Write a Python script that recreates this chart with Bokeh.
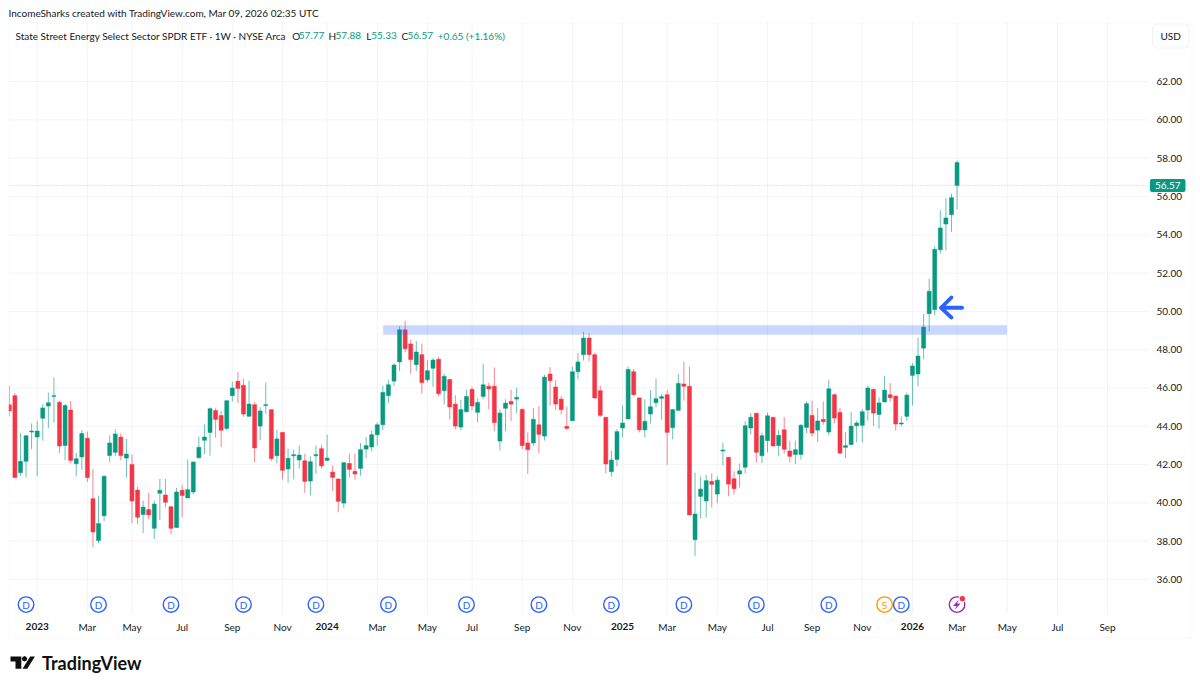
from bokeh.plotting import figure
from bokeh.core.properties import value
from bokeh.models import (ColumnDataSource, FixedTicker, Label, LinearAxis, PolyAnnotation, BoxAnnotation,
                          NumeralTickFormatter)
from bokeh.embed import file_html
from bokeh.resources import INLINE

UI_FONT = "Lato"
GREEN = "#089981"
RED = "#f23645"
BLUE = "#2962ff"
INK = "#131722"
GRID = "#f3f4f7"

first_week = -5
opens = [45.13,45.60,41.58,42.17,43.70,43.44,44.42,45.06,45.56,45.25,
         43.00,44.85,42.05,42.40,43.37,40.22,38.03,39.33,42.48,42.64,
         43.44,42.34,42.01,40.67,39.39,39.65,38.67,40.50,40.41,39.80,
         38.72,40.66,40.26,40.57,42.36,43.27,43.68,44.82,44.56,43.89,
         45.60,46.35,46.14,44.52,45.13,44.01,45.08,44.87,42.46,43.68,
         41.77,42.46,42.24,42.20,41.14,42.46,42.83,42.22,41.61,41.25,
         39.99,42.06,41.65,41.80,42.81,42.92,43.56,44.08,45.60,46.36,
         47.36,49.04,48.30,47.22,47.74,46.43,47.03,47.50,45.86,46.45,
         45.16,43.96,44.76,45.93,44.73,45.56,46.09,46.09,43.23,44.94,
         45.30,45.42,44.88,43.13,43.13,44.08,43.49,46.73,46.05,45.42,
         44.00,44.29,46.85,47.74,48.61,47.74,45.86,44.47,41.63,42.27,
         43.91,44.38,46.85,45.48,43.81,44.64,45.23,45.46,45.65,43.93,
         44.83,46.21,46.09,38.08,40.34,40.10,41.12,40.46,42.71,42.38,
         41.26,41.51,41.86,43.91,44.68,42.46,43.25,44.47,42.99,43.82,
         42.71,42.53,42.53,43.94,44.57,43.80,44.36,43.70,45.65,44.73,
         42.90,43.04,44.03,44.05,44.85,45.93,44.62,45.27,45.65,45.58,
         44.12,44.52,46.66,46.73,48.08,49.88,50.09,53.22,54.56,55.05,
         56.57]
closes = [44.80,41.32,42.17,43.51,43.75,43.75,44.96,45.23,45.60,42.97,
          45.08,42.22,42.31,43.62,41.32,38.48,38.92,41.39,43.13,43.60,
          42.47,42.55,40.10,39.25,39.78,39.37,39.94,40.66,40.03,38.67,
          40.57,40.38,40.69,42.14,42.90,43.44,44.92,44.36,43.79,45.34,
          46.00,45.98,44.64,45.16,42.87,44.80,45.13,42.31,43.34,41.70,
          42.33,42.52,42.50,41.12,42.15,42.52,41.93,42.34,41.33,40.08,
          42.10,41.75,41.51,42.78,42.99,43.56,44.08,45.77,46.17,47.20,
          49.04,48.05,47.48,47.88,46.28,46.90,47.46,45.70,46.61,45.01,
          44.01,44.87,45.56,45.06,45.25,46.17,45.95,44.19,44.69,45.21,
          45.16,45.51,42.99,42.78,44.36,43.58,46.57,46.38,45.16,44.87,
          43.89,46.85,47.36,48.61,47.74,45.48,44.57,42.03,42.24,43.72,
          44.17,46.97,45.65,43.81,44.26,45.02,45.44,45.55,43.68,44.87,
          46.24,46.09,39.37,39.42,40.72,41.16,40.97,41.19,42.76,40.98,
          40.74,41.68,44.03,44.47,42.64,43.51,44.55,42.97,43.53,42.80,
          42.43,42.78,44.05,45.18,43.65,44.28,44.24,45.96,44.43,42.60,
          42.99,44.01,44.17,44.76,46.00,44.69,45.22,45.89,45.49,44.12,
          44.17,45.63,47.15,47.67,49.18,51.05,53.24,54.36,54.88,55.94,
          57.77]
highs = [46.12,45.74,43.65,43.51,44.15,44.29,45.16,45.76,46.56,45.32,
         45.16,45.32,42.61,43.81,43.72,41.76,40.38,41.44,43.53,43.84,
         43.63,43.34,42.52,40.85,40.12,40.53,40.12,41.25,41.25,39.84,
         40.78,40.95,42.26,42.14,43.46,44.10,44.99,44.94,44.80,45.34,
         46.33,46.85,46.47,46.38,45.25,44.99,46.28,44.87,43.82,43.68,
         42.83,42.78,43.00,42.57,42.43,43.00,43.04,43.56,41.96,41.26,
         42.12,42.57,42.57,43.13,43.44,43.79,44.19,46.12,46.43,47.30,
         49.22,49.51,48.52,48.45,48.31,47.44,47.56,47.62,46.75,46.45,
         45.63,45.39,45.91,46.07,45.46,47.25,46.28,47.08,44.88,45.41,
         45.91,46.00,44.94,43.68,44.95,45.06,46.69,47.09,46.42,45.58,
         45.02,47.11,47.83,48.94,48.85,47.83,46.12,44.47,42.73,43.86,
         45.09,47.11,46.99,45.51,45.41,45.89,46.49,45.68,45.89,44.90,
         46.73,47.37,47.11,41.58,41.37,41.46,41.54,41.39,43.15,42.38,
         41.65,42.06,44.26,44.69,44.68,43.67,44.71,44.47,43.81,44.48,
         43.25,43.25,44.12,45.30,45.34,44.94,45.30,46.43,45.72,44.95,
         43.70,44.76,44.29,44.90,46.12,45.96,45.51,46.64,46.26,45.60,
         44.52,45.75,47.30,48.63,49.88,51.71,53.40,55.28,55.91,56.15,
         57.88]
lows = [44.52,41.32,41.40,41.33,42.81,41.40,43.25,43.89,44.19,42.61,
        42.24,42.07,41.39,41.72,41.09,37.68,37.89,39.04,42.12,42.45,
        42.22,41.33,38.93,38.90,38.43,39.14,38.11,39.11,39.75,38.36,
        38.69,39.25,40.26,40.46,42.31,42.55,42.47,43.41,42.92,43.79,
        45.29,45.22,44.50,44.50,42.13,43.27,44.66,42.19,42.06,41.23,
        41.05,41.23,41.79,40.53,40.38,41.52,41.80,42.17,40.62,39.51,
        39.73,41.33,41.21,41.42,42.34,42.69,42.99,43.79,45.21,46.10,
        46.89,47.86,46.75,46.87,45.70,46.29,46.07,45.56,45.15,44.36,
        43.84,43.79,44.71,44.83,44.21,45.42,44.88,43.74,42.73,43.74,
        44.28,44.68,42.81,41.51,42.97,42.59,43.25,45.08,44.85,44.61,
        43.82,44.29,46.45,47.43,47.39,45.44,44.47,41.54,41.37,41.91,
        43.42,44.38,45.60,43.68,43.42,44.15,44.99,44.34,41.99,43.32,
        44.83,45.34,39.37,37.23,39.19,39.24,39.75,39.98,41.96,40.34,
        40.43,40.81,41.54,43.58,42.10,42.08,42.64,42.97,42.43,42.57,
        42.12,42.03,42.26,43.65,43.46,43.18,44.08,43.53,44.15,42.57,
        42.33,43.04,43.16,43.16,44.29,44.01,43.87,45.25,45.28,43.77,
        43.98,44.29,45.09,46.10,47.50,48.95,49.79,53.01,53.19,54.15,
        55.33]

price_ticks = [36, 38, 40, 42, 44, 46, 48, 50, 52, 54, 56, 58, 60, 62]
month_ticks = [9, 17, 26, 35, 44, 61, 70, 78, 87, 96, 113, 122, 131, 139, 148, 165, 174, 183, 192]
month_labels = ["Mar", "May", "Jul", "Sep", "Nov", "Mar", "May", "Jul", "Sep", "Nov",
                "Mar", "May", "Jul", "Sep", "Nov", "Mar", "May", "Jul", "Sep"]
year_ticks = [0, 52, 105, 157]
year_labels = ["2023", "2024", "2025", "2026"]

dividend_weeks = [-2, 11, 24, 37, 50, 63, 77, 90, 103, 116, 129, 142, 155]
split_week = [152]
now_week = [165]
event_price = 34.69

last_price = 56.57
band_start, band_end, band_low, band_high = 62.1, 173.9, 48.79, 49.26
arrow_xs = [[165.9, 162.15], [164.0, 162.15, 164.0]]
arrow_ys = [[50.19, 50.19], [50.73, 50.19, 49.68]]

header_line = "IncomeSharks created with TradingView.com, Mar 09, 2026 02:35 UTC"
symbol_line = "State Street Energy Select Sector SPDR ETF · 1W · NYSE Arca"
ohlc_parts = [("O", INK, 291.7), ("57.77", GREEN, 298.3), ("H", INK, 328), ("57.88", GREEN, 335),
              ("L", INK, 365.7), ("55.33", GREEN, 370.7), ("C", INK, 401), ("56.57", GREEN, 407),
              ("+0.65 (+1.16%)", GREEN, 437.3)]

# edges of the price pane, in the scale's own units
pane_left, pane_right, pane_bottom, pane_top = -5.148, 199.34, 34.17, 65.09

weeks = [first_week + i for i in range(len(opens))]
colors = [GREEN if c >= o else RED for o, c in zip(opens, closes)]
src = ColumnDataSource(dict(x=weeks, o=opens, c=closes, h=highs, l=lows, color=colors))

W, H = 1200, 687
p = figure(width=W, height=H, output_backend="svg", toolbar_location=None,
           x_range=(-6.583, 208.67), y_range=(30.36, 66.235),
           min_border=0, x_axis_location=None, y_axis_location=None,
           background_fill_color="white", border_fill_color="white")
p.outline_line_color = None
p.grid.visible = False

# axes, pinned to the edges of the price pane
xa = LinearAxis(fixed_location=pane_bottom, ticker=FixedTicker(ticks=month_ticks),
                major_label_overrides={t: s for t, s in zip(month_ticks, month_labels)})
ya = LinearAxis(fixed_location=pane_right, ticker=FixedTicker(ticks=price_ticks),
                formatter=NumeralTickFormatter(format="0.00"))
p.add_layout(xa, "below")
p.add_layout(ya, "right")
for a, standoff in ((xa, 6), (ya, 8)):
    a.axis_line_color = None
    a.major_tick_line_color = None
    a.major_tick_in = 0
    a.major_tick_out = 0
    a.minor_tick_line_color = None
    a.major_label_text_font = UI_FONT
    a.major_label_text_font_size = "10px"
    a.major_label_text_color = INK
    a.major_label_standoff = standoff

# grid
gx = sorted(month_ticks + year_ticks)
p.segment(gx, [pane_bottom] * len(gx), gx, [pane_top] * len(gx), line_color=GRID, line_width=1, level="underlay")
p.segment([pane_left] * len(price_ticks), price_ticks, [pane_right] * len(price_ticks), price_ticks,
          line_color=GRID, line_width=1, level="underlay")

# candles
p.segment("x", "l", "x", "h", source=src, color="color", line_width=1, line_alpha=0.6)
p.vbar(x="x", width=0.72, bottom="o", top="c", source=src, fill_color="color", line_color="color", line_width=0.5)

# last price dotted line
dot = p.segment([pane_left], [last_price], [pane_right], [last_price], line_color="#5cc4ae", line_alpha=0.6, line_width=1)
dot.glyph.line_dash = [1, 2]

# support band and arrow
p.quad(left=[band_start], right=[band_end], bottom=[band_low], top=[band_high],
       fill_color=BLUE, fill_alpha=0.25, line_color=BLUE, line_alpha=0.08, line_width=1)
p.multi_line(arrow_xs, arrow_ys, line_color=BLUE, line_width=3.8, line_cap="round", line_join="round")

# events
def event_marks(xs, letter, color):
    ys = [event_price] * len(xs)
    p.scatter(xs, ys, marker="circle", size=15.5, fill_color="white", line_color=color, line_width=1.4)
    if letter:
        p.text(xs, ys, text=[letter] * len(xs), text_color=color, text_font=value(UI_FONT), text_font_size="10px",
               text_align="center", text_baseline="middle")

event_marks(split_week, "S", "#ff9800")
event_marks(dividend_weeks, "D", BLUE)
event_marks(now_week, "", "#9c27b0")
p.scatter(x=[now_week[0] + 0.95], y=[event_price + 0.31], marker="circle", size=6.5, fill_color=RED,
          line_color="white", line_width=1)
p.add_layout(PolyAnnotation(xs=[958.5, 952.5, 956, 954, 960, 956.5], ys=[599, 605.5, 605.5, 609.5, 603, 603],
                            xs_units="canvas", ys_units="canvas", fill_color="#9c27b0", fill_alpha=1,
                            line_color="#9c27b0", line_width=0))

# bold year labels at their tick positions on the time axis
for t, s in zip(year_ticks, year_labels):
    p.add_layout(Label(x=t, y=625.8, x_units="data", y_units="canvas", text=s, text_font=UI_FONT,
                       text_font_size="10px", text_font_style="bold", text_color=INK,
                       text_align="center", text_baseline="middle"))

def cv_label(x, y, text, size="10px", color=INK, style="normal", align="left", font=UI_FONT, **kw):
    p.add_layout(Label(x=x, y=y, x_units="canvas", y_units="canvas", text=text, text_font=font,
                       text_font_size=size, text_font_style=style, text_color=color,
                       text_align=align, text_baseline="middle", **kw))

# clip the leftmost candle at the pane edge
p.add_layout(BoxAnnotation(left=0, right=8.2, top=0, bottom=600, left_units="canvas", right_units="canvas",
                           top_units="canvas", bottom_units="canvas", fill_color="white", fill_alpha=1,
                           line_alpha=0))

cv_label(8, 12.5, header_line)
cv_label(15, 35, symbol_line)
for text, color, x in ohlc_parts:
    cv_label(x, 35, text, color=color)

cv_label(1170.2, 35.5, "USD", align="center", background_fill_color="white", border_line_color="#f0f3fa",
         border_radius=4, padding=(8, 6))

# current price tag
p.add_layout(Label(x=1167.2, y=last_price, x_units="canvas", y_units="data", text=f"{last_price:.2f}",
                   text_font=UI_FONT, text_font_size="10px", text_color="white", text_align="center",
                   text_baseline="middle", background_fill_color=GREEN, padding=(5, 3), border_radius=2))

# outer frame
p.add_layout(PolyAnnotation(xs=[8.5, 1191.5, 1191.5, 8.5], ys=[22.5, 22.5, 637.5, 637.5],
                            xs_units="canvas", ys_units="canvas", fill_alpha=0, line_color="#f0f3fa", line_width=1))

# TradingView logo
LOGO = "#0f0f0f"
def logo_poly(xs, ys):
    p.add_layout(PolyAnnotation(xs=xs, ys=ys, xs_units="canvas", ys_units="canvas",
                                fill_color=LOGO, fill_alpha=1, line_color=LOGO, line_width=0))

logo_poly([10, 20.8, 20.8, 15, 15, 10], [656, 656, 668.3, 668.3, 661, 661])
logo_poly([29.7, 34.4, 26.8, 22], [656, 656, 668.3, 668.3])
logo_poly([24, 25.9, 26.7, 25.9, 24, 22.1, 21.3, 22.1],
          [655.6, 656.4, 658.3, 660.2, 661, 660.2, 658.3, 656.4])
cv_label(41.5, 662.3, "TradingView", size="18px", style="bold", color=LOGO, font="Lato")

open("out.html", "w").write(file_html(p, INLINE))
print(len(opens), len(closes), len(highs), len(lows))
